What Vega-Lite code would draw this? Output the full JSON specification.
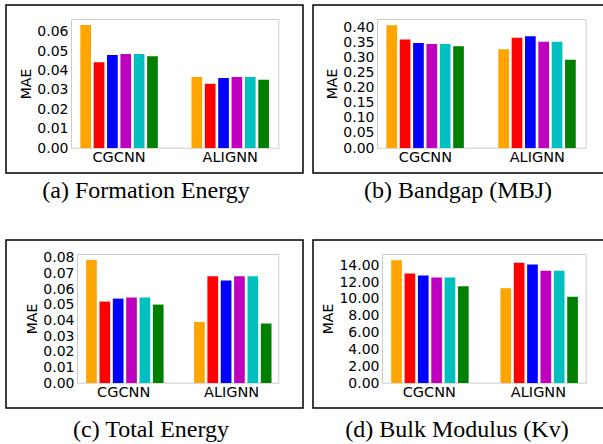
{
  "$schema": "https://vega.github.io/schema/vega-lite/v6.json",
  "padding": {"left": 5, "top": 4, "right": 0, "bottom": 0},
  "background": "white",
  "datasets": {
    "mae": [
      {"task": "a", "model": "CGCNN", "method": "m1", "mae": 0.0636},
      {"task": "a", "model": "CGCNN", "method": "m2", "mae": 0.0443},
      {"task": "a", "model": "CGCNN", "method": "m3", "mae": 0.0481},
      {"task": "a", "model": "CGCNN", "method": "m4", "mae": 0.0486},
      {"task": "a", "model": "CGCNN", "method": "m5", "mae": 0.0486},
      {"task": "a", "model": "CGCNN", "method": "m6", "mae": 0.0474},
      {"task": "a", "model": "ALIGNN", "method": "m1", "mae": 0.0367},
      {"task": "a", "model": "ALIGNN", "method": "m2", "mae": 0.0332},
      {"task": "a", "model": "ALIGNN", "method": "m3", "mae": 0.0362},
      {"task": "a", "model": "ALIGNN", "method": "m4", "mae": 0.0367},
      {"task": "a", "model": "ALIGNN", "method": "m5", "mae": 0.0367},
      {"task": "a", "model": "ALIGNN", "method": "m6", "mae": 0.0353},
      {"task": "b", "model": "CGCNN", "method": "m1", "mae": 0.409},
      {"task": "b", "model": "CGCNN", "method": "m2", "mae": 0.361},
      {"task": "b", "model": "CGCNN", "method": "m3", "mae": 0.350},
      {"task": "b", "model": "CGCNN", "method": "m4", "mae": 0.346},
      {"task": "b", "model": "CGCNN", "method": "m5", "mae": 0.346},
      {"task": "b", "model": "CGCNN", "method": "m6", "mae": 0.339},
      {"task": "b", "model": "ALIGNN", "method": "m1", "mae": 0.329},
      {"task": "b", "model": "ALIGNN", "method": "m2", "mae": 0.367},
      {"task": "b", "model": "ALIGNN", "method": "m3", "mae": 0.372},
      {"task": "b", "model": "ALIGNN", "method": "m4", "mae": 0.354},
      {"task": "b", "model": "ALIGNN", "method": "m5", "mae": 0.354},
      {"task": "b", "model": "ALIGNN", "method": "m6", "mae": 0.294},
      {"task": "c", "model": "CGCNN", "method": "m1", "mae": 0.0785},
      {"task": "c", "model": "CGCNN", "method": "m2", "mae": 0.0520},
      {"task": "c", "model": "CGCNN", "method": "m3", "mae": 0.0539},
      {"task": "c", "model": "CGCNN", "method": "m4", "mae": 0.0546},
      {"task": "c", "model": "CGCNN", "method": "m5", "mae": 0.0546},
      {"task": "c", "model": "CGCNN", "method": "m6", "mae": 0.0501},
      {"task": "c", "model": "ALIGNN", "method": "m1", "mae": 0.0390},
      {"task": "c", "model": "ALIGNN", "method": "m2", "mae": 0.0682},
      {"task": "c", "model": "ALIGNN", "method": "m3", "mae": 0.0655},
      {"task": "c", "model": "ALIGNN", "method": "m4", "mae": 0.0682},
      {"task": "c", "model": "ALIGNN", "method": "m5", "mae": 0.0682},
      {"task": "c", "model": "ALIGNN", "method": "m6", "mae": 0.0380},
      {"task": "d", "model": "CGCNN", "method": "m1", "mae": 14.6},
      {"task": "d", "model": "CGCNN", "method": "m2", "mae": 13.0},
      {"task": "d", "model": "CGCNN", "method": "m3", "mae": 12.78},
      {"task": "d", "model": "CGCNN", "method": "m4", "mae": 12.54},
      {"task": "d", "model": "CGCNN", "method": "m5", "mae": 12.54},
      {"task": "d", "model": "CGCNN", "method": "m6", "mae": 11.5},
      {"task": "d", "model": "ALIGNN", "method": "m1", "mae": 11.27},
      {"task": "d", "model": "ALIGNN", "method": "m2", "mae": 14.29},
      {"task": "d", "model": "ALIGNN", "method": "m3", "mae": 14.09},
      {"task": "d", "model": "ALIGNN", "method": "m4", "mae": 13.33},
      {"task": "d", "model": "ALIGNN", "method": "m5", "mae": 13.33},
      {"task": "d", "model": "ALIGNN", "method": "m6", "mae": 10.24}
    ]
  },
  "data": {"name": "mae"},
  "spacing": 35,
  "vconcat": [
    {
      "spacing": 8,
      "hconcat": [
        {
          "width": 297, "height": 168,
          "title": {"text": "(a) Formation Energy", "dx": -8.5, "offset": 6},
          "transform": [{"filter": "datum.task === 'a'"}],
          "layer": [
            {
              "mark": {"type": "bar"},
              "encoding": {
                "x": {"field": "model", "type": "nominal", "sort": ["CGCNN", "ALIGNN"],
                  "scale": {"range": [65, 272.3], "paddingInner": 0.279, "paddingOuter": 0.072},
                  "axis": {"orient": "bottom", "offset": -25.3, "title": null, "labelAngle": 0, "labelPadding": 3, "labelFontSize": 14.5}},
                "xOffset": {"field": "method", "type": "nominal", "scale": {"paddingInner": 0.2, "paddingOuter": 0.1}},
                "y": {"field": "mae", "type": "quantitative",
                  "scale": {"domain": [0, 0.0667], "range": [143, 14], "nice": false},
                  "axis": {"orient": "left", "offset": -65, "title": "MAE", "values": [0, 0.01, 0.02, 0.03, 0.04, 0.05, 0.06], "format": ".2f"}},
                "color": {"field": "method", "type": "nominal", "legend": null,
                  "scale": {"domain": ["m1", "m2", "m3", "m4", "m5", "m6"], "range": ["#FFA500", "#FF0000", "#0000FF", "#BF00BF", "#00BFBF", "#008000"]}}
              }
            },
            {
              "mark": {"type": "point", "opacity": 0},
              "encoding": {
                "x": {"field": "model", "type": "nominal", "sort": ["CGCNN", "ALIGNN"],
                  "axis": {"orient": "top", "offset": -14, "title": null, "labels": false}},
                "y": {"field": "mae", "type": "quantitative",
                  "axis": {"orient": "right", "offset": -24.7, "title": null, "labels": false}}
              }
            }
          ],
          "resolve": {"axis": {"x": "independent", "y": "independent"}}
        },
        {
          "width": 292, "height": 168,
          "title": {"text": "(b) Bandgap (MBJ)", "dx": -1, "offset": 6},
          "transform": [{"filter": "datum.task === 'b'"}],
          "layer": [
            {
              "mark": {"type": "bar"},
              "encoding": {
                "x": {"field": "model", "type": "nominal", "sort": ["CGCNN", "ALIGNN"],
                  "scale": {"range": [64, 272.7], "paddingInner": 0.279, "paddingOuter": 0.072},
                  "axis": {"orient": "bottom", "offset": -25.3, "title": null, "labelAngle": 0, "labelPadding": 3, "labelFontSize": 14.5}},
                "xOffset": {"field": "method", "type": "nominal", "scale": {"paddingInner": 0.2, "paddingOuter": 0.1}},
                "y": {"field": "mae", "type": "quantitative",
                  "scale": {"domain": [0, 0.4295], "range": [143, 14], "nice": false},
                  "axis": {"orient": "left", "offset": -64, "title": "MAE", "values": [0, 0.05, 0.1, 0.15, 0.2, 0.25, 0.3, 0.35, 0.4], "format": ".2f"}},
                "color": {"field": "method", "type": "nominal", "legend": null,
                  "scale": {"domain": ["m1", "m2", "m3", "m4", "m5", "m6"], "range": ["#FFA500", "#FF0000", "#0000FF", "#BF00BF", "#00BFBF", "#008000"]}}
              }
            },
            {
              "mark": {"type": "point", "opacity": 0},
              "encoding": {
                "x": {"field": "model", "type": "nominal", "sort": ["CGCNN", "ALIGNN"],
                  "axis": {"orient": "top", "offset": -14, "title": null, "labels": false}},
                "y": {"field": "mae", "type": "quantitative",
                  "axis": {"orient": "right", "offset": -19.3, "title": null, "labels": false}}
              }
            }
          ],
          "resolve": {"axis": {"x": "independent", "y": "independent"}}
        }
      ]
    },
    {
      "spacing": 8,
      "hconcat": [
        {
          "width": 297, "height": 168,
          "title": {"text": "(c) Total Energy", "dx": -3.5, "offset": 10},
          "transform": [{"filter": "datum.task === 'c'"}],
          "layer": [
            {
              "mark": {"type": "bar"},
              "encoding": {
                "x": {"field": "model", "type": "nominal", "sort": ["CGCNN", "ALIGNN"],
                  "scale": {"range": [71, 272.3], "paddingInner": 0.279, "paddingOuter": 0.072},
                  "axis": {"orient": "bottom", "offset": -25.3, "title": null, "labelAngle": 0, "labelPadding": 3, "labelFontSize": 14.5}},
                "xOffset": {"field": "method", "type": "nominal", "scale": {"paddingInner": 0.2, "paddingOuter": 0.1}},
                "y": {"field": "mae", "type": "quantitative",
                  "scale": {"domain": [0, 0.0824], "range": [143, 14], "nice": false},
                  "axis": {"orient": "left", "offset": -71, "title": "MAE", "values": [0, 0.01, 0.02, 0.03, 0.04, 0.05, 0.06, 0.07, 0.08], "format": ".2f"}},
                "color": {"field": "method", "type": "nominal", "legend": null,
                  "scale": {"domain": ["m1", "m2", "m3", "m4", "m5", "m6"], "range": ["#FFA500", "#FF0000", "#0000FF", "#BF00BF", "#00BFBF", "#008000"]}}
              }
            },
            {
              "mark": {"type": "point", "opacity": 0},
              "encoding": {
                "x": {"field": "model", "type": "nominal", "sort": ["CGCNN", "ALIGNN"],
                  "axis": {"orient": "top", "offset": -14, "title": null, "labels": false}},
                "y": {"field": "mae", "type": "quantitative",
                  "axis": {"orient": "right", "offset": -24.7, "title": null, "labels": false}}
              }
            }
          ],
          "resolve": {"axis": {"x": "independent", "y": "independent"}}
        },
        {
          "width": 292, "height": 168,
          "title": {"text": "(d) Bulk Modulus (Kv)", "dx": -2, "offset": 10},
          "transform": [{"filter": "datum.task === 'd'"}],
          "layer": [
            {
              "mark": {"type": "bar"},
              "encoding": {
                "x": {"field": "model", "type": "nominal", "sort": ["CGCNN", "ALIGNN"],
                  "scale": {"range": [69, 272.7], "paddingInner": 0.279, "paddingOuter": 0.072},
                  "axis": {"orient": "bottom", "offset": -25.3, "title": null, "labelAngle": 0, "labelPadding": 3, "labelFontSize": 14.5}},
                "xOffset": {"field": "method", "type": "nominal", "scale": {"paddingInner": 0.2, "paddingOuter": 0.1}},
                "y": {"field": "mae", "type": "quantitative",
                  "scale": {"domain": [0, 15.33], "range": [143, 14], "nice": false},
                  "axis": {"orient": "left", "offset": -69, "title": "MAE", "values": [0, 2, 4, 6, 8, 10, 12, 14], "format": ".2f"}},
                "color": {"field": "method", "type": "nominal", "legend": null,
                  "scale": {"domain": ["m1", "m2", "m3", "m4", "m5", "m6"], "range": ["#FFA500", "#FF0000", "#0000FF", "#BF00BF", "#00BFBF", "#008000"]}}
              }
            },
            {
              "mark": {"type": "point", "opacity": 0},
              "encoding": {
                "x": {"field": "model", "type": "nominal", "sort": ["CGCNN", "ALIGNN"],
                  "axis": {"orient": "top", "offset": -14, "title": null, "labels": false}},
                "y": {"field": "mae", "type": "quantitative",
                  "axis": {"orient": "right", "offset": -19.3, "title": null, "labels": false}}
              }
            }
          ],
          "resolve": {"axis": {"x": "independent", "y": "independent"}}
        }
      ]
    }
  ],
  "config": {
    "view": {"stroke": "black", "strokeWidth": 1.5},
    "axis": {
      "grid": false, "ticks": false, "domainColor": "#cccccc", "domainWidth": 1,
      "labelColor": "black", "labelFont": "DejaVu Sans", "labelFontSize": 14, "labelPadding": 3,
      "titleFont": "DejaVu Sans", "titleFontSize": 14, "titleFontWeight": "normal", "titleColor": "black", "titlePadding": 3
    },
    "title": {"orient": "bottom", "font": "Liberation Serif", "fontSize": 24, "fontWeight": "normal", "color": "black", "anchor": "middle"}
  }
}
